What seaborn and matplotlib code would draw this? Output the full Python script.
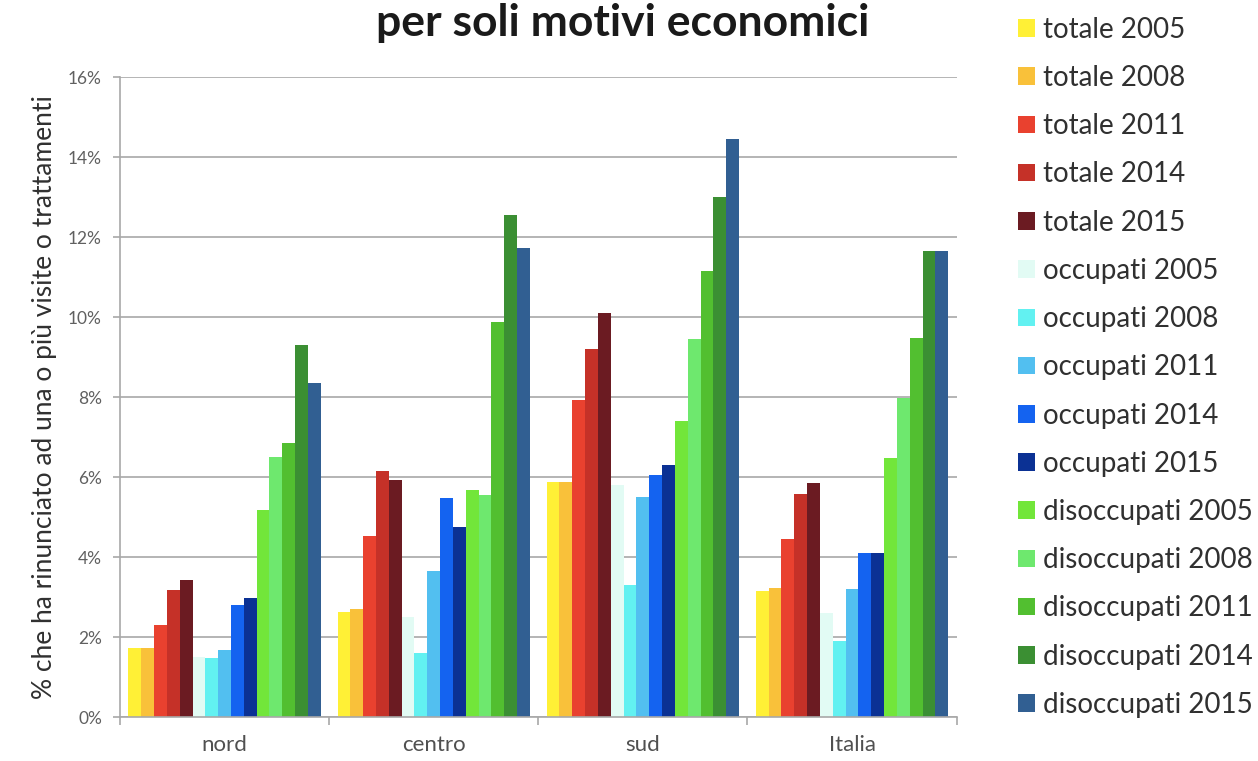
import pandas as pd
import matplotlib.pyplot as plt
import seaborn as sns
from matplotlib.ticker import MultipleLocator, FuncFormatter

plt.switch_backend('Agg')

# dati (% che ha rinunciato per motivi economici)
aree = ['nord', 'centro', 'sud', 'Italia']
serie = ['totale 2005', 'totale 2008', 'totale 2011', 'totale 2014', 'totale 2015',
         'occupati 2005', 'occupati 2008', 'occupati 2011', 'occupati 2014', 'occupati 2015',
         'disoccupati 2005', 'disoccupati 2008', 'disoccupati 2011', 'disoccupati 2014',
         'disoccupati 2015']

nord = [1.72, 1.72, 2.3, 3.17, 3.42, 1.5, 1.47, 1.67, 2.8, 2.97, 5.17, 6.5, 6.85, 9.3, 8.35]
centro = [2.63, 2.71, 4.53, 6.14, 5.93, 2.5, 1.61, 3.64, 5.47, 4.75, 5.68, 5.55, 9.87, 12.55, 11.72]
sud = [5.88, 5.88, 7.92, 9.21, 10.09, 5.8, 3.29, 5.51, 6.06, 6.3, 7.41, 9.44, 11.16, 13.0, 14.45]
italia = [3.15, 3.23, 4.44, 5.57, 5.86, 2.6, 1.9, 3.19, 4.11, 4.11, 6.48, 7.98, 9.48, 11.65, 11.65]

colori = ['#fff036', '#f9c13a', '#e9412f', '#c53128', '#6b1b22',
          '#e2fbf4', '#62f1f1', '#52bff0', '#1463f0', '#0b3194',
          '#72e63a', '#6ee86e', '#52bf30', '#3b8f33', '#315f92']

valori = {'nord': nord, 'centro': centro, 'sud': sud, 'Italia': italia}
righe = []
for a in aree:
    for s, v in zip(serie, valori[a]):
        righe.append({'area': a, 'serie': s, 'valore': v})
df = pd.DataFrame(righe)

sns.set_style('white')
plt.rcParams['font.family'] = ['Lato', 'DejaVu Sans']

fig = plt.figure(figsize=(12.58, 7.61), dpi=100)
ax = fig.add_axes([0.0954, 0.0578, 0.665, 0.841])

sns.barplot(data=df, x='area', y='valore', hue='serie', order=aree, hue_order=serie,
            palette=colori, saturation=1, width=0.92, gap=0, errorbar=None,
            linewidth=0, ax=ax, legend=True)

ax.set_ylim(0, 16)
ax.set_xlim(-0.5, 3.5)
ax.yaxis.set_major_locator(MultipleLocator(2))
ax.yaxis.set_major_formatter(FuncFormatter(lambda v, p: f'{int(v)}%'))
ax.grid(axis='y', color='#b4b4b4', linewidth=1.4)
ax.set_axisbelow(True)
for s in ['top', 'right']:
    ax.spines[s].set_visible(False)
for s in ['left', 'bottom']:
    ax.spines[s].set_color('#a8a8a8')
    ax.spines[s].set_linewidth(1.2)

ax.tick_params(axis='y', labelsize=12.5, colors='#a8a8a8', labelcolor='#606060',
               length=5, width=1.2, left=True, pad=8)
ax.tick_params(axis='x', labelsize=16, labelcolor='#505050', length=0, pad=13)
ax.set_xticks([-0.5, 0.5, 1.5, 2.5, 3.5], minor=True)
ax.tick_params(axis='x', which='minor', length=6, width=1.2, colors='#a8a8a8', bottom=True)

ax.set_xlabel('')
ax.set_ylabel('% che ha rinunciato ad una o più visite o trattamenti',
              fontsize=19, color='#303030', labelpad=8)

fig.text(0.495, 0.970, 'per soli motivi economici', ha='center', va='center',
         fontsize=32, fontweight='bold', color='#1a1a1a')

handles, labels = ax.get_legend_handles_labels()
ax.get_legend().remove()
fig.legend(handles, labels, loc='upper left', bbox_to_anchor=(0.797, 0.998),
           frameon=False, fontsize=20, labelcolor='#303030',
           handlelength=0.6, handleheight=0.6, handletextpad=0.3,
           labelspacing=0.8, borderaxespad=0.15)

fig.savefig('out.png', dpi=100)
